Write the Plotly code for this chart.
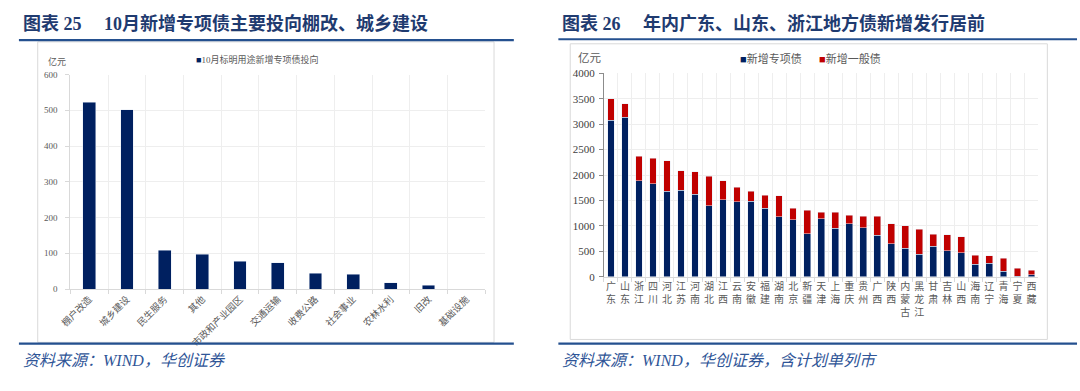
import plotly.graph_objects as go

# ---------------- data ----------------
left_categories = ["棚户改造", "城乡建设", "民生服务", "其他", "市政和产业园区", "交通运输",
                   "收费公路", "社会事业", "农林水利", "旧改", "基础设施"]
left_values = [523, 502, 108, 98, 78, 74, 44, 41, 17, 11, 0]

provinces = ["广东", "山东", "浙江", "四川", "河北", "江苏", "河南", "湖北", "江西", "云南",
             "安徽", "福建", "湖南", "北京", "新疆", "天津", "上海", "重庆", "贵州", "广西",
             "陕西", "内蒙古", "黑龙江", "甘肃", "吉林", "山西", "海南", "辽宁", "青海", "宁夏", "西藏"]
special_bonds = [3080, 3140, 1890, 1830, 1685, 1700, 1620, 1400, 1510, 1475,
                 1480, 1350, 1175, 1120, 850, 1140, 950, 1040, 965, 815,
                 650, 562, 440, 600, 510, 472, 250, 262, 112, 8, 40]
general_bonds = [420, 260, 480, 500, 595, 385, 445, 580, 375, 287,
                 200, 250, 415, 228, 460, 126, 316, 172, 224, 375,
                 390, 436, 495, 240, 318, 318, 170, 155, 255, 155, 85]

left_title = "图表 25\u2003 10月新增专项债主要投向棚改、城乡建设"
right_title = "图表 26\u2003 年内广东、山东、浙江地方债新增发行居前"
left_source = "资料来源：WIND，华创证券"
right_source = "资料来源：WIND，华创证券，含计划单列市"
left_legend = "10月标明用途新增专项债投向"
right_legend = ["新增专项债", "新增一般债"]
unit = "亿元"

# ---------------- style ----------------
W, H = 1080, 391
NAVY = "#002060"
RED = "#C00000"
TITLE_C = "#1F3B70"
LINE_C = "#24508F"
SRC_C = "#2F5597"
GRID = "#EEEEEE"
AXIS = "#D9D9D9"
TXT = "#595959"
SERIF = "Liberation Serif, Noto Sans CJK SC, serif"


def fx(x):
    return x / W


def fy(y):
    return 1 - y / H


province_labels = ["<br>".join(list(p)) for p in provinces]

fig = go.Figure()
fig.add_trace(go.Bar(x=left_categories, y=left_values, marker_color=NAVY, width=0.34,
                     xaxis="x", yaxis="y", showlegend=False, name=left_legend))
fig.add_trace(go.Bar(x=province_labels, y=special_bonds, marker_color=NAVY, width=0.48,
                     xaxis="x2", yaxis="y2", showlegend=False, name=right_legend[0]))
fig.add_trace(go.Bar(x=province_labels, y=general_bonds, marker_color=RED, width=0.48,
                     xaxis="x2", yaxis="y2", showlegend=False, name=right_legend[1]))

fig.update_layout(
    width=W, height=H, autosize=False,
    margin=dict(l=0, r=0, t=0, b=0),
    paper_bgcolor="white", plot_bgcolor="white",
    barmode="stack",
    font=dict(family=SERIF, color=TXT),
    xaxis=dict(domain=[fx(60), fx(479)], anchor="y", type="category",
               tickson="boundaries", ticks="outside", ticklen=4, tickcolor=AXIS,
               showgrid=True, gridcolor=GRID, showline=True, linecolor=AXIS,
               tickangle=-45, tickfont=dict(size=9.5, color=TXT, family=SERIF)),
    yaxis=dict(domain=[fy(292), fy(70.7)], anchor="x", range=[0, 600], dtick=100,
               ticks="outside", ticklen=4, tickcolor=AXIS, showline=True, linecolor=AXIS,
               showgrid=True, gridcolor=GRID, zeroline=False, ticklabelstandoff=6,
               tickfont=dict(size=9, color=TXT, family=SERIF)),
    xaxis2=dict(domain=[fx(599), fx(1038)], anchor="y2", type="category",
                tickson="boundaries", ticks="outside", ticklen=4, tickcolor=AXIS,
                showgrid=True, gridcolor=GRID, showline=True, linecolor=AXIS,
                tickangle=0, tickfont=dict(size=10, color=TXT, family=SERIF)),
    yaxis2=dict(domain=[fy(279.3), fy(69.5)], anchor="x2", range=[0, 4000], dtick=500,
                ticks="outside", ticklen=4, tickcolor="#8C8C8C", showline=True, linecolor="#8C8C8C",
                showgrid=True, gridcolor=GRID, zeroline=False, ticklabelstandoff=2,
                tickfont=dict(size=11, color="#404040", family=SERIF)),
)

shapes = []
# chart frames
shapes.append(dict(type="rect", xref="paper", yref="paper", x0=fx(27), x1=fx(488), y0=fy(347), y1=fy(37),
                   line=dict(color=AXIS, width=1), fillcolor="rgba(0,0,0,0)", layer="below"))
shapes.append(dict(type="rect", xref="paper", yref="paper", x0=fx(565), x1=fx(1047), y0=fy(344), y1=fy(39),
                   line=dict(color=AXIS, width=1), fillcolor="rgba(0,0,0,0)", layer="below"))
# title underlines and bottom lines
for (x0, x1, y) in [(8, 508, 35.3), (553, 1077, 34.3), (8, 508, 348.3), (553, 1077, 348.3)]:
    shapes.append(dict(type="line", xref="paper", yref="paper", x0=fx(x0), x1=fx(x1), y0=fy(y), y1=fy(y),
                       line=dict(color=LINE_C, width=2.2)))
fig.update_layout(shapes=shapes)

ann = []
# titles
ann.append(dict(text="<b>" + left_title + "</b>", x=fx(10), y=fy(18), xref="paper", yref="paper",
                xanchor="left", yanchor="middle", showarrow=False,
                font=dict(size=18, color=TITLE_C, family=SERIF)))
ann.append(dict(text="<b>" + right_title + "</b>", x=fx(555), y=fy(18), xref="paper", yref="paper",
                xanchor="left", yanchor="middle", showarrow=False,
                font=dict(size=18, color=TITLE_C, family=SERIF)))
# sources
ann.append(dict(text="<i>" + left_source + "</i>", x=fx(10), y=fy(366), xref="paper", yref="paper",
                xanchor="left", yanchor="middle", showarrow=False,
                font=dict(size=16, color=SRC_C, family=SERIF)))
ann.append(dict(text="<i>" + right_source + "</i>", x=fx(555), y=fy(366), xref="paper", yref="paper",
                xanchor="left", yanchor="middle", showarrow=False,
                font=dict(size=16, color=SRC_C, family=SERIF)))
# units
ann.append(dict(text=unit, x=fx(35), y=fy(57), xref="paper", yref="paper",
                xanchor="left", yanchor="middle", showarrow=False,
                font=dict(size=9, color=TXT, family=SERIF)))
ann.append(dict(text=unit, x=fx(571), y=fy(54), xref="paper", yref="paper",
                xanchor="left", yanchor="middle", showarrow=False,
                font=dict(size=11.5, color=TXT, family=SERIF)))
# legends
ann.append(dict(text='<span style="color:%s">■</span>%s' % (NAVY, left_legend), x=fx(249), y=fy(55),
                xref="paper", yref="paper", xanchor="center", yanchor="middle", showarrow=False,
                font=dict(size=9, color=TXT, family=SERIF)))
ann.append(dict(text='<span style="color:%s">■</span>%s' % (NAVY, right_legend[0]), x=fx(734), y=fy(54),
                xref="paper", yref="paper", xanchor="left", yanchor="middle", showarrow=False,
                font=dict(size=11, color=TXT, family=SERIF)))
ann.append(dict(text='<span style="color:%s">■</span>%s' % (RED, right_legend[1]), x=fx(814), y=fy(54),
                xref="paper", yref="paper", xanchor="left", yanchor="middle", showarrow=False,
                font=dict(size=11, color=TXT, family=SERIF)))
fig.update_layout(annotations=ann)

fig.write_html("out.html",
               config={"displayModeBar": False, "staticPlot": True},
               post_script="document.body.style.margin='0';document.body.style.overflow='hidden';")
